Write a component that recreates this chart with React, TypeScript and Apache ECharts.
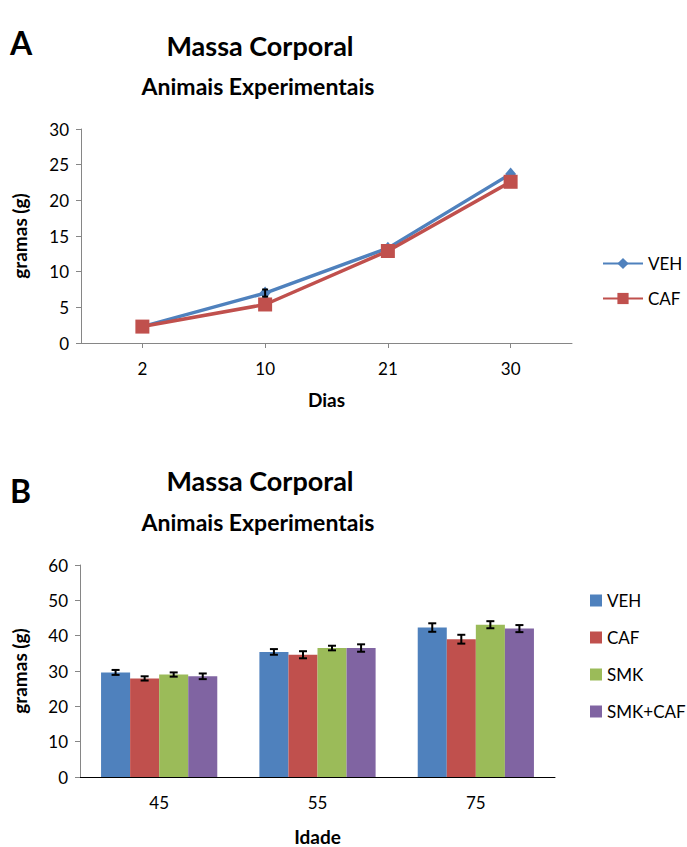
import React, { useEffect, useRef } from "react";
import * as echarts from "echarts";

// Panel A data
const days = ["2", "10", "21", "30"];
const vehMass = [2.3, 7.0, 13.3, 23.7];
const cafMass = [2.3, 5.4, 12.9, 22.6];
const vehMassErr = [0, 0.5, 0, 0];
const cafMassErr = [0, 0, 0, 0];
const yTicksA = [0, 5, 10, 15, 20, 25, 30];

// Panel B data
const ages = ["45", "55", "75"];
const groupNames = ["VEH", "CAF", "SMK", "SMK+CAF"];
const vehB = [29.6, 35.4, 42.3];
const cafB = [27.9, 34.6, 39.0];
const smkB = [29.0, 36.5, 43.1];
const smkCafB = [28.5, 36.5, 42.0];
const vehBErr = [0.7, 0.8, 1.2];
const cafBErr = [0.6, 1.0, 1.25];
const smkBErr = [0.6, 0.65, 1.0];
const smkCafBErr = [0.8, 1.05, 1.0];
const yTicksB = [0, 10, 20, 30, 40, 50, 60];

const COLORS = ["#4F81BD", "#C0504D", "#9BBB59", "#8064A2"];
const FONT = "Lato, 'Open Sans', sans-serif";
const GAP = 0.266;

export default function App() {
  const ref = useRef<HTMLDivElement>(null);
  useEffect(() => {
    document.body.style.margin = "0";
    const chart = echarts.init(ref.current!, null, { renderer: "svg" });

    const bMeans = [vehB, cafB, smkB, smkCafB];
    const bErrs = [vehBErr, cafBErr, smkBErr, smkCafBErr];
    const errDataB: number[][] = [];
    bMeans.forEach((arr, s) =>
      arr.forEach((v, i) => errDataB.push([i, v, bErrs[s][i], s]))
    );
    const errDataA: number[][] = [];
    [vehMass, cafMass].forEach((arr, s) =>
      arr.forEach((v, i) => {
        const e = [vehMassErr, cafMassErr][s][i];
        if (e > 0) errDataA.push([i, v, e, s]);
      })
    );

    const errRender = (capHalf: number, grouped: boolean) => (params: any, api: any) => {
      const cat = api.value(0);
      const mean = api.value(1);
      const err = api.value(2);
      const s = api.value(3);
      const c = api.coord([cat, mean]);
      let x = c[0];
      if (grouped) {
        const band = api.size([1, 0])[0];
        const bw = (band * (1 - GAP)) / 4;
        x = c[0] + (s - 1.5) * bw;
      }
      const top = api.coord([cat, mean + err])[1];
      const bot = api.coord([cat, mean - err])[1];
      const st = { stroke: "#000", lineWidth: 2 };
      return {
        type: "group",
        children: [
          { type: "line", shape: { x1: x, y1: top, x2: x, y2: bot }, style: st },
          { type: "line", shape: { x1: x - capHalf, y1: top, x2: x + capHalf, y2: top }, style: st },
          { type: "line", shape: { x1: x - capHalf, y1: bot, x2: x + capHalf, y2: bot }, style: st },
        ],
      };
    };

    const axisLabel = { color: "#000", fontSize: 17, fontFamily: FONT };
    const nameStyle = { color: "#000", fontSize: 19, fontWeight: "bold" as const, fontFamily: FONT };

    const txt = (text: string, x: number, y: number, size: number, align = "center") => ({
      type: "text",
      x,
      y,
      style: {
        text,
        font: `bold ${size}px ${FONT}`,
        fill: "#000",
        textAlign: align,
        textVerticalAlign: "middle",
        align,
        verticalAlign: "middle",
      },
    });

    chart.setOption({
      animation: false,
      backgroundColor: "#fff",
      graphic: [
        txt("A", 10, 42, 32, "left"),
        txt("Massa Corporal", 260, 45, 27),
        txt("Animais Experimentais", 258, 86, 23),
        txt("B", 10, 490, 32, "left"),
        txt("Massa Corporal", 260, 480, 27),
        txt("Animais Experimentais", 258, 522, 23),
      ],
      grid: [
        { left: 81, top: 129, width: 491, height: 214 },
        { left: 80, top: 565, width: 475, height: 217 },
      ],
      legend: [
        {
          data: ["VEH", "CAF"],
          orient: "vertical",
          left: 597,
          top: 250,
          itemWidth: 40,
          itemHeight: 14,
          itemGap: 18,
          textStyle: { color: "#000", fontSize: 17, fontFamily: FONT },
        },
        {
          data: groupNames.map((n) => "B-" + n),
          formatter: (n: string) => n.replace("B-", ""),
          orient: "vertical",
          left: 585,
          top: 587,
          icon: "rect",
          itemWidth: 12,
          itemHeight: 12,
          itemGap: 20,
          textStyle: { color: "#000", fontSize: 17, fontFamily: FONT },
        },
      ],
      xAxis: [
        {
          gridIndex: 0,
          type: "category",
          data: days,
          boundaryGap: true,
          name: "Dias",
          nameLocation: "middle",
          nameGap: 47,
          nameTextStyle: nameStyle,
          axisLine: { lineStyle: { color: "#868686", width: 1 } },
          axisTick: { show: true, alignWithLabel: true, length: 5, lineStyle: { color: "#868686" } },
          axisLabel: { ...axisLabel, margin: 17 },
        },
        {
          gridIndex: 1,
          type: "category",
          data: ages,
          boundaryGap: true,
          name: "Idade",
          nameLocation: "middle",
          nameGap: 50,
          nameTextStyle: nameStyle,
          axisLine: { lineStyle: { color: "#000", width: 1 } },
          axisTick: { show: false },
          axisLabel: { ...axisLabel, margin: 17 },
        },
      ],
      yAxis: [
        {
          gridIndex: 0,
          type: "value",
          min: yTicksA[0],
          max: yTicksA[yTicksA.length - 1],
          interval: 5,
          name: "gramas (g)",
          nameLocation: "middle",
          nameGap: 52,
          nameRotate: 90,
          nameTextStyle: nameStyle,
          axisLine: { show: true, lineStyle: { color: "#868686" } },
          axisTick: { show: true, length: 5, lineStyle: { color: "#868686" } },
          axisLabel: { ...axisLabel, margin: 12 },
          splitLine: { show: false },
        },
        {
          gridIndex: 1,
          type: "value",
          min: yTicksB[0],
          max: yTicksB[yTicksB.length - 1],
          interval: 10,
          name: "gramas (g)",
          nameLocation: "middle",
          nameGap: 51,
          nameRotate: 90,
          nameTextStyle: nameStyle,
          axisLine: { show: true, lineStyle: { color: "#868686" } },
          axisTick: { show: true, length: 5, lineStyle: { color: "#868686" } },
          axisLabel: { ...axisLabel, margin: 12 },
          splitLine: { show: false },
        },
      ],
      series: [
        {
          name: "VEH",
          type: "line",
          xAxisIndex: 0,
          yAxisIndex: 0,
          data: vehMass,
          color: COLORS[0],
          lineStyle: { width: 3.5, color: COLORS[0] },
          symbol: "diamond",
          symbolSize: [11, 13],
          itemStyle: { color: COLORS[0] },
          z: 2,
        },
        {
          name: "CAF",
          type: "line",
          xAxisIndex: 0,
          yAxisIndex: 0,
          data: cafMass,
          color: COLORS[1],
          lineStyle: { width: 3.5, color: COLORS[1] },
          symbol: "rect",
          symbolSize: 14,
          itemStyle: { color: COLORS[1] },
          z: 3,
        },
        {
          type: "custom",
          xAxisIndex: 0,
          yAxisIndex: 0,
          data: errDataA,
          encode: { x: 0, y: 1 },
          renderItem: errRender(3, false),
          z: 4,
          silent: true,
        },
        ...groupNames.map((n, s) => ({
          name: "B-" + n,
          type: "bar",
          xAxisIndex: 1,
          yAxisIndex: 1,
          data: bMeans[s],
          itemStyle: { color: COLORS[s] },
          barGap: "0%",
          barCategoryGap: GAP * 100 + "%",
        })),
        {
          type: "custom",
          xAxisIndex: 1,
          yAxisIndex: 1,
          data: errDataB,
          encode: { x: 0, y: 1 },
          renderItem: errRender(4, true),
          z: 5,
          silent: true,
        },
      ],
    });
    return () => chart.dispose();
  }, []);
  return (
    <div
      ref={ref}
      style={{ position: "fixed", left: 0, top: 0, width: 687, height: 847, background: "#fff" }}
    />
  );
}
